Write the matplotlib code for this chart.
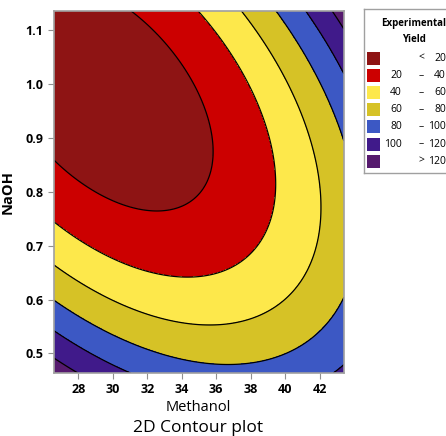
import numpy as np
import matplotlib.pyplot as plt
from matplotlib.patches import Rectangle

# fitted response surface
# Yield = b0 + b1*M + b2*N + b11*M^2 + b22*N^2 + b12*M*N
COEF = [1128.23, -38.5171, -1131.69, 0.441559, 385.339, 12.765]

METHANOL_RANGE = [26.59, 43.41]
NAOH_RANGE = [0.4636, 1.1364]
LEVELS = [20, 40, 60, 80, 100, 120]
COLORS = ["#8E1414", "#CC0000", "#FDE84B", "#D6C226", "#3C58C4", "#401A8A", "#561A6E"]
X_TICKS = [28, 30, 32, 34, 36, 38, 40, 42]
Y_TICKS = [0.5, 0.6, 0.7, 0.8, 0.9, 1.0, 1.1]

plt.rcParams["font.family"] = ["Liberation Sans Narrow", "Open Sans", "DejaVu Sans"]

xg = np.linspace(*METHANOL_RANGE, 300)
yg = np.linspace(*NAOH_RANGE, 300)
M, N = np.meshgrid(xg, yg)
b0, b1, b2, b11, b22, b12 = COEF
Z = b0 + b1 * M + b2 * N + b11 * M * M + b22 * N * N + b12 * M * N

fig = plt.figure(figsize=(4.46, 4.36), dpi=100)
ax = fig.add_axes([0.121, 0.1445, 0.65, 0.8305])
ax.contourf(M, N, Z, levels=[-1e9] + LEVELS + [1e9], colors=COLORS)
ax.contour(M, N, Z, levels=LEVELS, colors="black", linewidths=0.9)
ax.set_xlim(METHANOL_RANGE)
ax.set_ylim(NAOH_RANGE)
ax.set_xticks(X_TICKS)
ax.set_yticks(Y_TICKS)
ax.set_yticklabels([f"{v:.1f}" for v in Y_TICKS])
ax.tick_params(labelsize=9, length=4, color="#909090", width=0.8)
for lab in ax.get_xticklabels() + ax.get_yticklabels():
    lab.set_fontweight("bold")
for sp in ax.spines.values():
    sp.set_color("#A0A0A0")
    sp.set_linewidth(1.2)

ax.set_ylabel("NaOH", fontsize=10.5, fontweight="bold", labelpad=8)
fig.text(0.444, 0.066, "Methanol", ha="center", va="center", fontsize=10.5)
fig.text(0.444, 0.018, "2D Contour plot", ha="center", va="center", fontsize=12.5)

# legend box
lax = fig.add_axes([0.816, 0.603, 0.19, 0.376])
lax.set_xlim(0, 84.7)
lax.set_ylim(164, 0)
lax.set_xticks([])
lax.set_yticks([])
for sp in lax.spines.values():
    sp.set_color("#A0A0A0")
    sp.set_linewidth(1.0)
lax.text(50, 14, "Experimental", ha="center", va="center", fontsize=7, fontweight="bold")
lax.text(50, 30, "Yield", ha="center", va="center", fontsize=7, fontweight="bold")

bounds = [None] + LEVELS + [None]
for i, col in enumerate(COLORS):
    yc = 49 + i * 17.2
    lax.add_patch(Rectangle((3, yc - 6.5), 13, 13, facecolor=col, edgecolor="none"))
    lo, hi = bounds[i], bounds[i + 1]
    if lo is None:
        lax.text(57, yc, "<", ha="center", va="center", fontsize=7.5)
        lax.text(82, yc, f"{hi}", ha="right", va="center", fontsize=7.5)
    elif hi is None:
        lax.text(57, yc, ">", ha="center", va="center", fontsize=7.5)
        lax.text(82, yc, f"{lo}", ha="right", va="center", fontsize=7.5)
    else:
        lax.text(38, yc, f"{lo}", ha="right", va="center", fontsize=7.5)
        lax.text(57, yc, "–", ha="center", va="center", fontsize=7.5)
        lax.text(82, yc, f"{hi}", ha="right", va="center", fontsize=7.5)

fig.savefig("out.png")
